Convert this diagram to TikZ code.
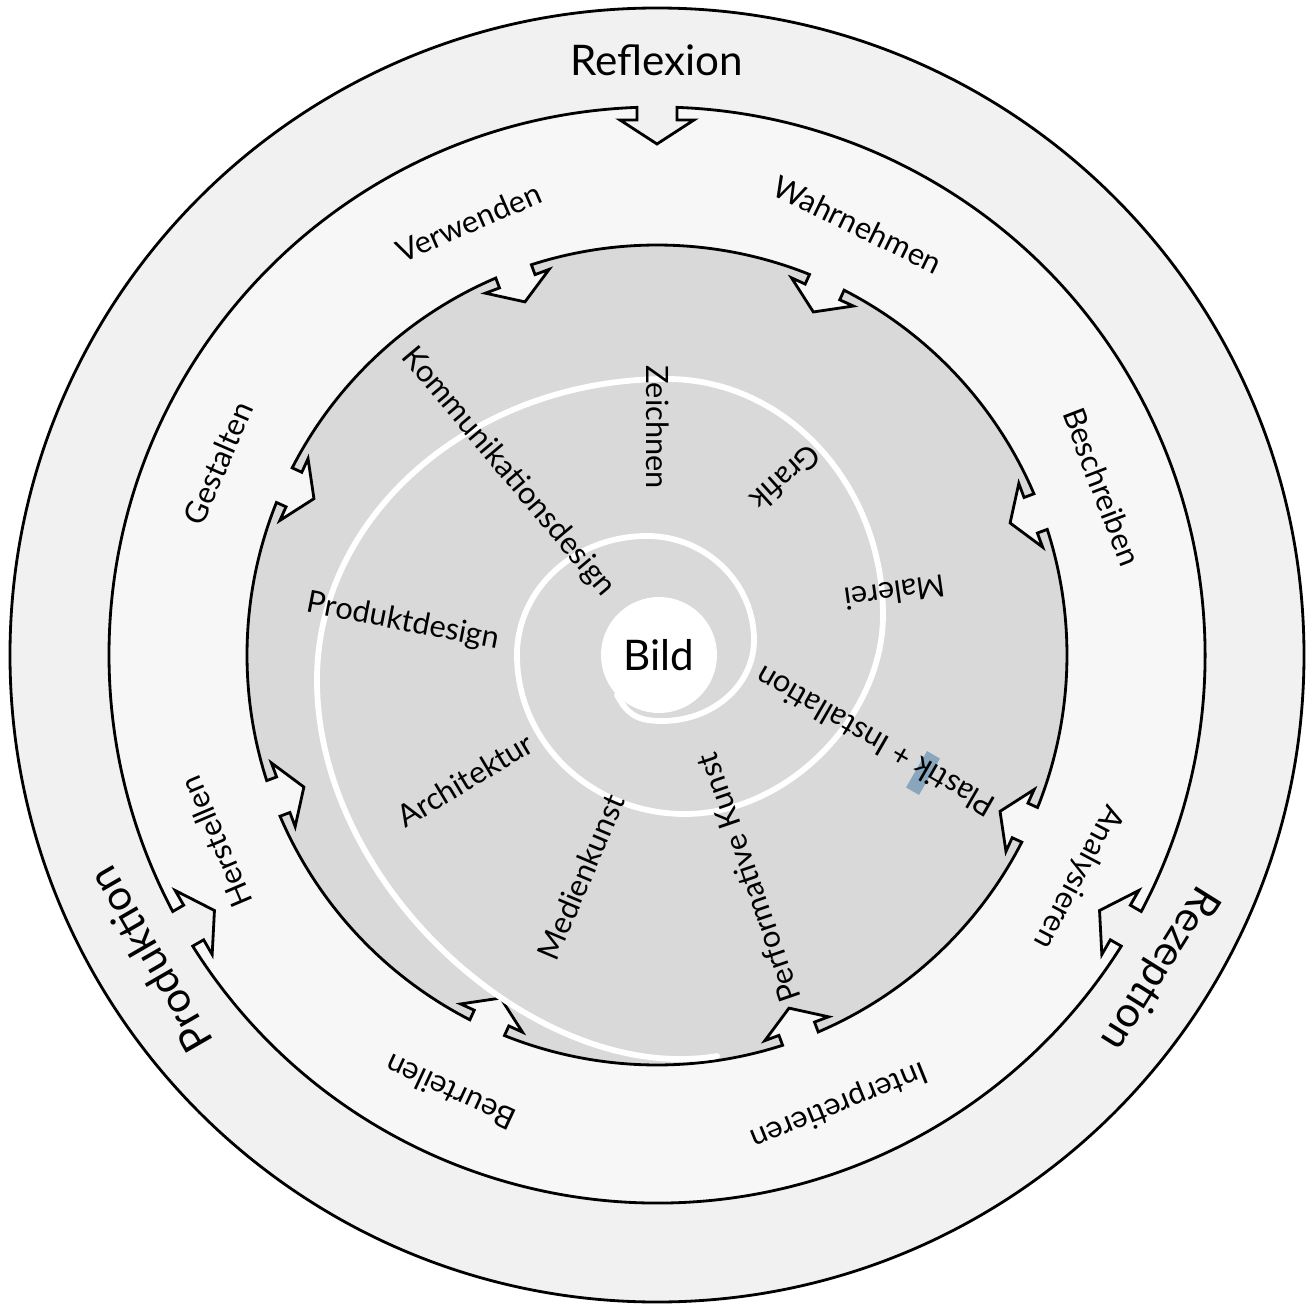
\documentclass[tikz,border=0pt]{standalone}
\usepackage{fontspec}
\setmainfont{Lato}
\definecolor{outerColor}{RGB}{241,241,241}
\definecolor{middleColor}{RGB}{247,247,247}
\definecolor{innerColor}{RGB}{217,217,217}
\definecolor{markColor}{RGB}{110,150,182}
\tikzstyle{diagram} = [x = 0.02cm, y = 0.02cm]
\tikzstyle{ringLine} = [draw=black, line width=1.6pt, line join=miter]
\tikzstyle{spiralLine} = [draw=white, line width=3.3pt, line cap=round]
\tikzstyle{mainLabel} = [font=\fontsize{24}{28}\selectfont, inner sep=0pt]
\tikzstyle{stepLabel} = [font=\fontsize{17.5}{21}\selectfont, inner sep=0pt]
\tikzstyle{fieldLabel} = [font=\fontsize{17.5}{21}\selectfont, inner sep=0pt]
\tikzstyle{bildCircle} = [circle, fill=white, minimum size=2.32cm, inner sep=0pt, font=\fontsize{24}{28}\selectfont]
\tikzstyle{markBox} = [fill=markColor, opacity=0.75, minimum width=0.3cm, minimum height=0.84cm, inner sep=0pt]
% #1 angle, #2 radius, #3 half gap, #4 half head, #5 shaft depth, #6 tip depth
\newcommand{\ringNotch}[6]{
  -- ({(#2-#5)*cos(#1)+#3*sin(#1)}, {(#2-#5)*sin(#1)-#3*cos(#1)})
  -- ({(#2-#5)*cos(#1)+#4*sin(#1)}, {(#2-#5)*sin(#1)-#4*cos(#1)})
  -- ({(#2-#6)*cos(#1)}, {(#2-#6)*sin(#1)})
  -- ({(#2-#5)*cos(#1)-#4*sin(#1)}, {(#2-#5)*sin(#1)+#4*cos(#1)})
  -- ({(#2-#5)*cos(#1)-#3*sin(#1)}, {(#2-#5)*sin(#1)+#3*cos(#1)})
}
\begin{document}
\begin{tikzpicture}[diagram]
  \fill[white] (-657,-650) rectangle (654,655);
  \useasboundingbox (-657,-650) rectangle (654,655);

  % outer ring
  \filldraw[ringLine, fill=outerColor] (0,0) circle (647);

  % middle ring, three arrows
  \filldraw[ringLine, fill=middleColor] ({90+asin(20/548)}:548)
    \foreach \a in {210,330} {
      arc[start angle={\a-120+asin(20/548)}, end angle={\a-asin(20/548)}, radius=548]
      \ringNotch{\a}{548}{20}{37}{13}{37} -- ({\a+asin(20/548)}:548)
    }
    arc[start angle={330+asin(20/548)}, end angle={450-asin(20/548)}, radius=548]
    \ringNotch{450}{548}{20}{37}{13}{37} -- cycle;

  % inner disk, eight arrows
  \filldraw[ringLine, fill=innerColor] ({20.5+asin(19/410)}:410)
    \foreach \a in {65.5,110.5,155.5,200.5,245.5,290.5,335.5} {
      arc[start angle={\a-45+asin(19/410)}, end angle={\a-asin(19/410)}, radius=410]
      \ringNotch{\a}{410}{19}{34}{11}{33} -- ({\a+asin(19/410)}:410)
    }
    arc[start angle={335.5+asin(19/410)}, end angle={380.5-asin(19/410)}, radius=410]
    \ringNotch{380.5}{410}{19}{34}{11}{33} -- cycle;

  % spiral
  \draw[spiralLine] (-40,-40) .. controls (-30,-58) and (-22,-66) .. (5,-66)
    .. controls (56,-66) and (97,-30) .. (97,15)
    .. controls (97,72) and (49,119) .. (-10,119)
    .. controls (-82,119) and (-140,66) .. (-140,0)
    .. controls (-140,-88) and (-65,-159) .. (28,-159)
    .. controls (130,-159) and (226,-62) .. (226,40)
    .. controls (226,170) and (129,276) .. (10,276)
    .. controls (-183,276) and (-340,141) .. (-340,-25)
    .. controls (-340,-234) and (-117,-431) .. (60,-401);

  \node[bildCircle] (bild) at (2,0) {Bild};

  % outer labels
  \node[mainLabel] (reflexion) at (90:595) {Reflexion};
  \node[mainLabel, rotate=-122] (rezeption) at (-32:592) {Rezeption};
  \node[mainLabel, rotate=120] (produktion) at (-149:592) {Produktion};

  % middle labels
  \node[stepLabel, rotate=23.5] (verwenden) at (113.5:472) {Verwenden};
  \node[stepLabel, rotate=-26] (wahrnehmen) at (65:475) {Wahrnehmen};
  \node[stepLabel, rotate=-69] (beschreiben) at (20.7:476) {Beschreiben};
  \node[stepLabel, rotate=-118] (analysieren) at (-27.8:476) {Analysieren};
  \node[stepLabel, rotate=-158] (interpretieren) at (-68:485) {Interpretieren};
  \node[stepLabel, rotate=155] (beurteilen) at (-115.3:484) {Beurteilen};
  \node[stepLabel, rotate=113] (herstellen) at (-157:479) {Herstellen};
  \node[stepLabel, rotate=66.5] (gestalten) at (156.4:479) {Gestalten};

  % inner labels
  \node[markBox, rotate=150] (mark) at (266,-118) {};
  \node[fieldLabel, rotate=-50] (kommunikation) at (-149,183) {Kommunikationsdesign};
  \node[fieldLabel, rotate=-90] (zeichnen) at (1,228) {Zeichnen};
  \node[fieldLabel, rotate=-138] (grafik) at (129,177) {Grafik};
  \node[fieldLabel, rotate=188] (malerei) at (238,62) {Malerei};
  \node[fieldLabel, rotate=150] (plastik) at (218,-87) {Plastik + Installation};
  \node[fieldLabel, rotate=109] (performativ) at (91,-223) {Performative Kunst};
  \node[fieldLabel, rotate=67] (medienkunst) at (-76,-222) {Medienkunst};
  \node[fieldLabel, rotate=31] (architektur) at (-192,-125) {Architektur};
  \node[fieldLabel, rotate=-11] (produktdesign) at (-254,33) {Produktdesign};
\end{tikzpicture}
\end{document}
